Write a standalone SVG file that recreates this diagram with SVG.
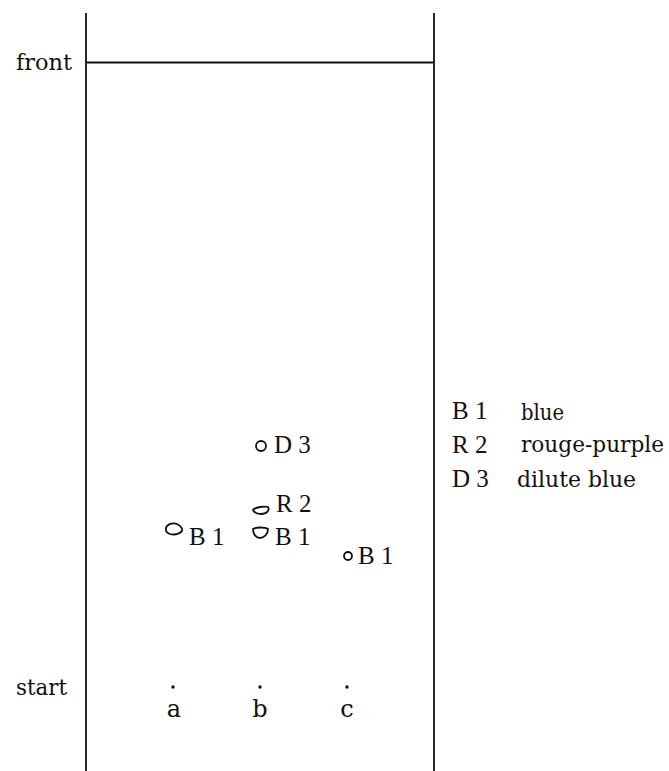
<svg xmlns="http://www.w3.org/2000/svg" width="669" height="771" viewBox="0 0 669 771">
  <style>
    text { fill: #111; }
    .cap { font-family: "Liberation Serif", "DejaVu Serif", serif; font-size: 25px; }
    .word { font-family: "DejaVu Serif", "Liberation Serif", serif; font-size: 22px; }
    .lane { font-family: "DejaVu Serif", "Liberation Serif", serif; font-size: 24px; }
    .ln { stroke: #111; stroke-width: 1.8; fill: none; }
    .spot { stroke: #111; stroke-width: 1.8; fill: none; }
  </style>
  <rect width="669" height="771" fill="#fff"/>

  <!-- plate edges and solvent front -->
  <g id="plate">
    <line class="ln" x1="86" y1="13" x2="86" y2="771"/>
    <line class="ln" x1="434" y1="13" x2="434" y2="771"/>
    <line class="ln" x1="86" y1="62.5" x2="434" y2="62.5"/>
    <text class="word" x="16" y="70" textLength="56" lengthAdjust="spacingAndGlyphs">front</text>
    <text class="word" x="16" y="695" textLength="51" lengthAdjust="spacingAndGlyphs">start</text>
  </g>

  <!-- application points -->
  <g id="origins">
    <circle cx="173" cy="687" r="1.7" fill="#111"/>
    <circle cx="260" cy="687" r="1.7" fill="#111"/>
    <circle cx="347" cy="687" r="1.7" fill="#111"/>
    <text class="lane" x="174" y="717" text-anchor="middle">a</text>
    <text class="lane" x="260" y="717" text-anchor="middle">b</text>
    <text class="lane" x="347" y="717" text-anchor="middle">c</text>
  </g>

  <!-- lane a -->
  <g id="spot-a-b1">
    <path class="spot" d="M166,530 C165,525 172,522 177,524 C181,526 183,529 182,531 C179,534 174,535 170,534 C167,533 166,532 166,530 Z"/>
    <text class="cap" x="189" y="545">B 1</text>
  </g>

  <!-- lane b -->
  <g id="spot-b-d3">
    <circle class="spot" cx="261" cy="446" r="5"/>
    <text class="cap" x="274" y="453">D 3</text>
  </g>
  <g id="spot-b-r2">
    <path class="spot" d="M253,510 C255,507 265,506 268,507 C270,510 267,514 261,514 C257,514 254,512 253,510 Z"/>
    <text class="cap" x="276" y="512">R 2</text>
  </g>
  <g id="spot-b-b1">
    <path class="spot" d="M253,529 C256,527 265,527 268,529 C268,534 264,538 260,538 C256,538 253,534 253,529 Z"/>
    <text class="cap" x="275" y="545">B 1</text>
  </g>

  <!-- lane c -->
  <g id="spot-c-b1">
    <circle class="spot" cx="348" cy="556" r="4"/>
    <text class="cap" x="358" y="564">B 1</text>
  </g>

  <!-- legend -->
  <g id="legend">
    <text class="cap" x="452" y="419">B 1</text>
    <text class="word" x="521" y="420" textLength="43" lengthAdjust="spacingAndGlyphs">blue</text>
    <text class="cap" x="452" y="453">R 2</text>
    <text class="word" x="521" y="452" textLength="143" lengthAdjust="spacingAndGlyphs">rouge-purple</text>
    <text class="cap" x="452" y="487">D 3</text>
    <text class="word" x="517" y="487" textLength="119" lengthAdjust="spacingAndGlyphs">dilute blue</text>
  </g>
</svg>
